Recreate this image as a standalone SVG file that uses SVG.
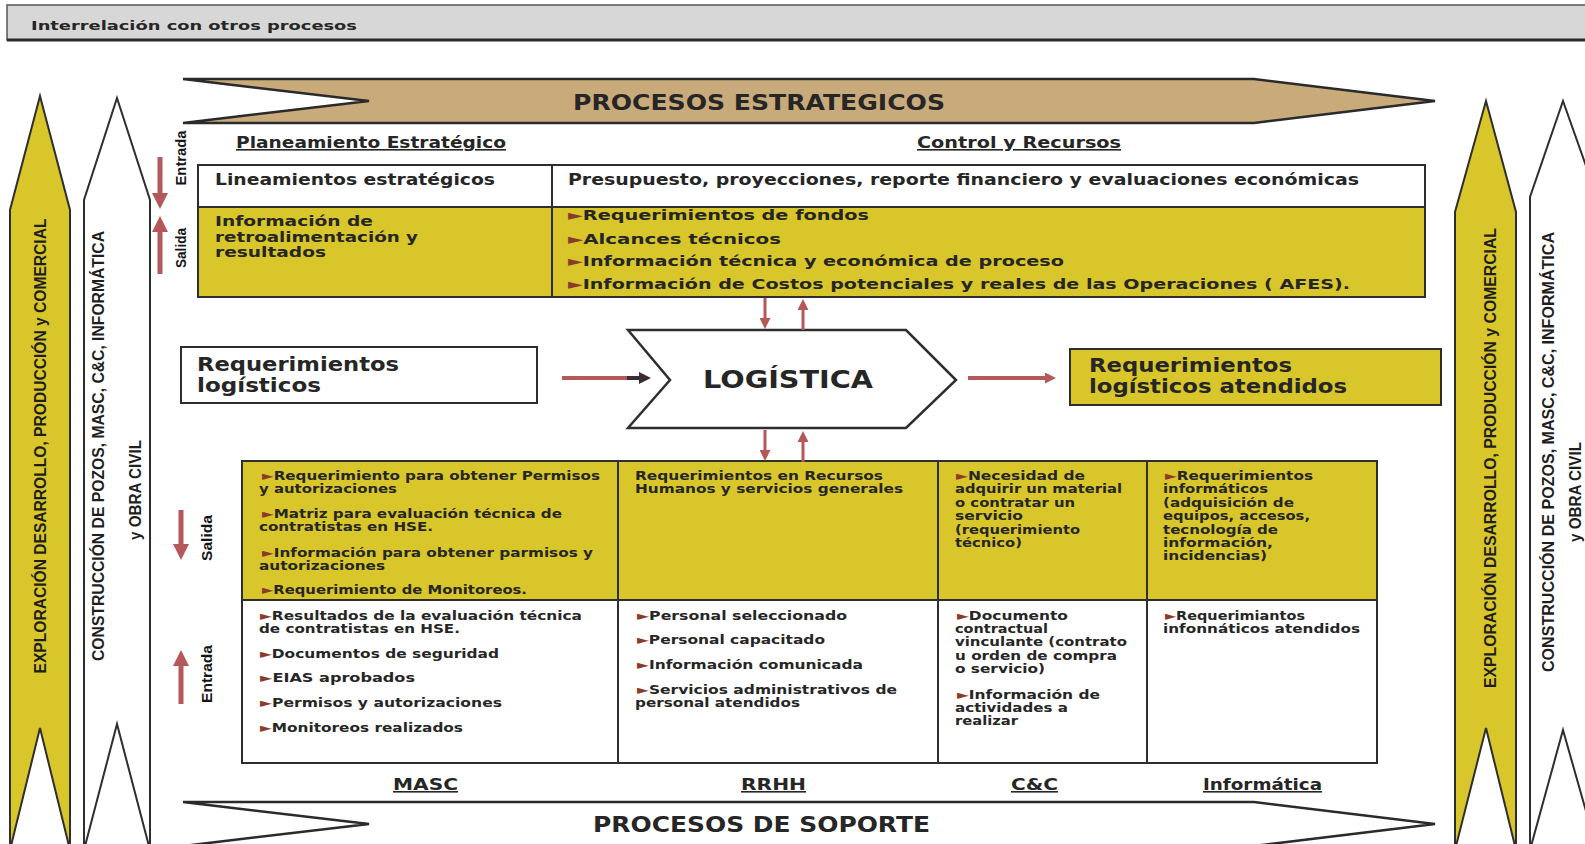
<svg xmlns="http://www.w3.org/2000/svg" width="1585" height="844" viewBox="0 0 1585 844">
<style>
.t{font-family:"DejaVu Sans","Liberation Sans",sans-serif;font-weight:bold;fill:#262626}
.tb{font-size:12.5px}
.tr{font-size:14.5px}
.hd{font-size:16px;text-decoration:underline}
.bx{font-size:19px}
.bu{fill:#8b3b2b}
.ban{font-family:"Liberation Sans",Arial,sans-serif;font-weight:bold;font-size:17px;fill:#1e1e1e}
.lab{font-family:"Liberation Sans",Arial,sans-serif;font-weight:bold;font-size:14px;fill:#141414}
.yel{fill:#d8c62a}
.edge{stroke:#2e2e2e;stroke-width:2}
.ar{stroke:#b5585a;fill:none}
</style>
<defs>
<marker id="hb" markerUnits="userSpaceOnUse" markerWidth="16" markerHeight="16" viewBox="0 0 16 16" refX="0" refY="8" orient="auto"><path d="M0,0 L16,8 L0,16 z" fill="#b5585a"/></marker>
<marker id="hs" markerUnits="userSpaceOnUse" markerWidth="11" markerHeight="11" viewBox="0 0 11 11" refX="0" refY="5.5" orient="auto"><path d="M0,0 L11,5.5 L0,11 z" fill="#b5585a"/></marker>
<marker id="hd" markerUnits="userSpaceOnUse" markerWidth="12" markerHeight="12" viewBox="0 0 12 12" refX="0" refY="6" orient="auto"><path d="M0,0 L12,6 L0,12 z" fill="#3a2c32"/></marker>
</defs>
<rect width="1585" height="844" fill="#ffffff"/>

<g id="header">
<rect x="7" y="5" width="1582" height="35" fill="#d7d7d7" stroke="#555" stroke-width="1.5"/>
<line x1="7" y1="40" x2="1585" y2="40" stroke="#2a2a2a" stroke-width="3"/>
<text x="31" y="30" class="t" font-size="13" fill="#333" textLength="326" lengthAdjust="spacingAndGlyphs">Interrelación con otros procesos</text>
</g>

<g id="banner-left-yellow">
<polygon points="40,96 70,210 70,850 40,728 10,850 10,210" class="yel edge" stroke-width="1.5"/>
<text class="ban" transform="translate(40,446) rotate(-90)" text-anchor="middle" dominant-baseline="central" textLength="455" lengthAdjust="spacingAndGlyphs">EXPLORACIÓN DESARROLLO, PRODUCCIÓN y COMERCIAL</text>
</g>
<g id="banner-left-white">
<polygon points="117,98 150,200 150,850 117,724 84,850 84,200" fill="#fff" class="edge" stroke-width="1.5"/>
<text class="ban" transform="translate(98,446) rotate(-90)" text-anchor="middle" dominant-baseline="central" textLength="430" lengthAdjust="spacingAndGlyphs">CONSTRUCCIÓN DE POZOS, MASC, C&amp;C, INFORMÁTICA</text>
<text class="ban" transform="translate(135,490) rotate(-90)" text-anchor="middle" dominant-baseline="central" textLength="100" lengthAdjust="spacingAndGlyphs">y OBRA CIVIL</text>
</g>
<g id="banner-right-yellow">
<polygon points="1486,101 1516,212 1516,850 1486,728 1455,850 1455,212" class="yel edge" stroke-width="1.5"/>
<text class="ban" transform="translate(1490,458) rotate(-90)" text-anchor="middle" dominant-baseline="central" textLength="460" lengthAdjust="spacingAndGlyphs">EXPLORACIÓN DESARROLLO, PRODUCCIÓN y COMERCIAL</text>
</g>
<g id="banner-right-white">
<polygon points="1563,101 1597,197 1597,850 1563,730 1530,850 1530,197" fill="#fff" class="edge" stroke-width="1.5"/>
<text class="ban" transform="translate(1548,452) rotate(-90)" text-anchor="middle" dominant-baseline="central" textLength="440" lengthAdjust="spacingAndGlyphs">CONSTRUCCIÓN DE POZOS, MASC, C&amp;C, INFORMÁTICA</text>
<text class="ban" transform="translate(1575,492) rotate(-90)" text-anchor="middle" dominant-baseline="central" textLength="100" lengthAdjust="spacingAndGlyphs">y OBRA CIVIL</text>
</g>

<g id="procesos-estrategicos">
<polygon points="183,79 1254,79 1435,101 1254,123 183,123 369,101" fill="#c9aa7a" stroke="#2a2a2a" stroke-width="2.5"/>
<text x="573" y="110" class="t" font-size="21" textLength="372" lengthAdjust="spacingAndGlyphs">PROCESOS ESTRATEGICOS</text>
</g>

<g id="hdr-planeamiento"><text x="236" y="148" class="t hd" textLength="270" lengthAdjust="spacingAndGlyphs">Planeamiento Estratégico</text></g>
<g id="hdr-control"><text x="917" y="148" class="t hd" textLength="204" lengthAdjust="spacingAndGlyphs">Control y Recursos</text></g>

<g id="tabla-estrategica">
<rect x="198" y="207" width="1227" height="90" class="yel"/>
<rect x="198" y="165" width="1227" height="132" fill="none" class="edge"/>
<line x1="198" y1="207" x2="1425" y2="207" class="edge"/>
<line x1="552" y1="165" x2="552" y2="297" class="edge"/>
<text x="215" y="185" class="t" font-size="16" textLength="280" lengthAdjust="spacingAndGlyphs">Lineamientos estratégicos</text>
<text x="568" y="185" class="t" font-size="16" textLength="791" lengthAdjust="spacingAndGlyphs">Presupuesto, proyecciones, reporte financiero y evaluaciones económicas</text>
<text x="215" y="226" class="t tr" textLength="158" lengthAdjust="spacingAndGlyphs">Información de</text>
<text x="215" y="241.5" class="t tr" textLength="203" lengthAdjust="spacingAndGlyphs">retroalimentación y</text>
<text x="215" y="257" class="t tr" textLength="111" lengthAdjust="spacingAndGlyphs">resultados</text>
<text x="568" y="220" class="t tr" textLength="301" lengthAdjust="spacingAndGlyphs"><tspan class="bu">►</tspan>Requerimientos de fondos</text>
<text x="568" y="244" class="t tr" textLength="213" lengthAdjust="spacingAndGlyphs"><tspan class="bu">►</tspan>Alcances técnicos</text>
<text x="568" y="266" class="t tr" textLength="496" lengthAdjust="spacingAndGlyphs"><tspan class="bu">►</tspan>Información técnica y económica de proceso</text>
<text x="568" y="289" class="t tr" textLength="782" lengthAdjust="spacingAndGlyphs"><tspan class="bu">►</tspan>Información de Costos potenciales y reales de las Operaciones ( AFES).</text>
</g>

<g id="lbl-entrada-top"><text class="lab" transform="translate(181,158) rotate(-90)" text-anchor="middle" dominant-baseline="central" textLength="55" lengthAdjust="spacingAndGlyphs">Entrada</text></g>
<g id="lbl-salida-top"><text class="lab" transform="translate(181,248) rotate(-90)" text-anchor="middle" dominant-baseline="central" textLength="40" lengthAdjust="spacingAndGlyphs">Salida</text></g>
<g id="lbl-salida-bottom"><text class="lab" transform="translate(207,538) rotate(-90)" text-anchor="middle" dominant-baseline="central" textLength="46" lengthAdjust="spacingAndGlyphs">Salida</text></g>
<g id="lbl-entrada-bottom"><text class="lab" transform="translate(207,674) rotate(-90)" text-anchor="middle" dominant-baseline="central" textLength="58" lengthAdjust="spacingAndGlyphs">Entrada</text></g>

<g id="req-logisticos">
<rect x="181" y="347" width="356" height="56" fill="#fff" class="edge" stroke-width="2.5"/>
<text x="197" y="371" class="t bx" textLength="202" lengthAdjust="spacingAndGlyphs">Requerimientos</text>
<text x="197" y="392" class="t bx" textLength="124" lengthAdjust="spacingAndGlyphs">logísticos</text>
</g>

<g id="logistica">
<polygon points="628,330 906,330 956,380 906,428 628,428 670,380" fill="#fff" stroke="#2e2e2e" stroke-width="2.5"/>
<text x="703" y="388" class="t" font-size="24" textLength="170" lengthAdjust="spacingAndGlyphs">LOGÍSTICA</text>
</g>

<g id="req-atendidos">
<rect x="1070" y="349" width="371" height="56" class="yel edge" stroke-width="2.5"/>
<text x="1089" y="372" class="t bx" textLength="203" lengthAdjust="spacingAndGlyphs">Requerimientos</text>
<text x="1089" y="393" class="t bx" textLength="258" lengthAdjust="spacingAndGlyphs">logísticos atendidos</text>
</g>

<g id="tabla-soporte">
<rect x="242" y="461" width="1135" height="140" class="yel"/>
<rect x="242" y="461" width="1135" height="302" fill="none" class="edge" stroke-width="2.5"/>
<line x1="242" y1="600" x2="1377" y2="600" class="edge"/>
<line x1="618" y1="461" x2="618" y2="763" class="edge"/>
<line x1="938" y1="461" x2="938" y2="763" class="edge"/>
<line x1="1147" y1="461" x2="1147" y2="763" class="edge"/>
</g>

<g id="masc">
<text x="262" y="480" class="t tb" textLength="338" lengthAdjust="spacingAndGlyphs"><tspan class="bu">►</tspan>Requerimiento para obtener Permisos</text>
<text x="259" y="493" class="t tb" textLength="138" lengthAdjust="spacingAndGlyphs">y autorizaciones</text>
<text x="262" y="518" class="t tb" textLength="300" lengthAdjust="spacingAndGlyphs"><tspan class="bu">►</tspan>Matriz para evaluación técnica de</text>
<text x="259" y="531" class="t tb" textLength="174" lengthAdjust="spacingAndGlyphs">contratistas en HSE.</text>
<text x="262" y="557" class="t tb" textLength="331" lengthAdjust="spacingAndGlyphs"><tspan class="bu">►</tspan>Información para obtener parmisos y</text>
<text x="259" y="570" class="t tb" textLength="126" lengthAdjust="spacingAndGlyphs">autorizaciones</text>
<text x="262" y="594" class="t tb" textLength="265" lengthAdjust="spacingAndGlyphs"><tspan class="bu">►</tspan>Requerimiento de Monitoreos.</text>
<text x="260" y="620" class="t tb" textLength="322" lengthAdjust="spacingAndGlyphs"><tspan class="bu">►</tspan>Resultados de la evaluación técnica</text>
<text x="259" y="633" class="t tb" textLength="201" lengthAdjust="spacingAndGlyphs">de contratistas en HSE.</text>
<text x="260" y="658" class="t tb" textLength="239" lengthAdjust="spacingAndGlyphs"><tspan class="bu">►</tspan>Documentos de seguridad</text>
<text x="260" y="682" class="t tb" textLength="155" lengthAdjust="spacingAndGlyphs"><tspan class="bu">►</tspan>EIAS aprobados</text>
<text x="260" y="707" class="t tb" textLength="242" lengthAdjust="spacingAndGlyphs"><tspan class="bu">►</tspan>Permisos y autorizaciones</text>
<text x="260" y="732" class="t tb" textLength="203" lengthAdjust="spacingAndGlyphs"><tspan class="bu">►</tspan>Monitoreos realizados</text>
<text x="393" y="790" class="t hd" textLength="65" lengthAdjust="spacingAndGlyphs">MASC</text>
</g>

<g id="rrhh">
<text x="635" y="480" class="t tb" textLength="248" lengthAdjust="spacingAndGlyphs">Requerimientos en Recursos</text>
<text x="635" y="493" class="t tb" textLength="268" lengthAdjust="spacingAndGlyphs">Humanos y servicios generales</text>
<text x="637" y="620" class="t tb" textLength="210" lengthAdjust="spacingAndGlyphs"><tspan class="bu">►</tspan>Personal seleccionado</text>
<text x="637" y="644" class="t tb" textLength="188" lengthAdjust="spacingAndGlyphs"><tspan class="bu">►</tspan>Personal capacitado</text>
<text x="637" y="668.5" class="t tb" textLength="226" lengthAdjust="spacingAndGlyphs"><tspan class="bu">►</tspan>Información comunicada</text>
<text x="637" y="694" class="t tb" textLength="260" lengthAdjust="spacingAndGlyphs"><tspan class="bu">►</tspan>Servicios administrativos de</text>
<text x="635" y="707" class="t tb" textLength="165" lengthAdjust="spacingAndGlyphs">personal atendidos</text>
<text x="741" y="790" class="t hd" textLength="65" lengthAdjust="spacingAndGlyphs">RRHH</text>
</g>

<g id="cyc">
<text x="956" y="480" class="t tb" textLength="129" lengthAdjust="spacingAndGlyphs"><tspan class="bu">►</tspan>Necesidad de</text>
<text x="955" y="493.4" class="t tb" textLength="167" lengthAdjust="spacingAndGlyphs">adquirir un material</text>
<text x="955" y="506.8" class="t tb" textLength="120" lengthAdjust="spacingAndGlyphs">o contratar un</text>
<text x="955" y="520.2" class="t tb" textLength="68" lengthAdjust="spacingAndGlyphs">servicio</text>
<text x="955" y="533.6" class="t tb" textLength="125" lengthAdjust="spacingAndGlyphs">(requerimiento</text>
<text x="955" y="547" class="t tb" textLength="67" lengthAdjust="spacingAndGlyphs">técnico)</text>
<text x="957" y="619.5" class="t tb" textLength="111" lengthAdjust="spacingAndGlyphs"><tspan class="bu">►</tspan>Documento</text>
<text x="955" y="632.9" class="t tb" textLength="93" lengthAdjust="spacingAndGlyphs">contractual</text>
<text x="955" y="646.3" class="t tb" textLength="172" lengthAdjust="spacingAndGlyphs">vinculante (contrato</text>
<text x="955" y="659.7" class="t tb" textLength="162" lengthAdjust="spacingAndGlyphs">u orden de compra</text>
<text x="955" y="673.1" class="t tb" textLength="90" lengthAdjust="spacingAndGlyphs">o servicio)</text>
<text x="957" y="698.5" class="t tb" textLength="143" lengthAdjust="spacingAndGlyphs"><tspan class="bu">►</tspan>Información de</text>
<text x="955" y="711.9" class="t tb" textLength="113" lengthAdjust="spacingAndGlyphs">actividades a</text>
<text x="955" y="725.3" class="t tb" textLength="63" lengthAdjust="spacingAndGlyphs">realizar</text>
<text x="1011" y="790" class="t hd" textLength="47" lengthAdjust="spacingAndGlyphs">C&amp;C</text>
</g>

<g id="informatica">
<text x="1165" y="480" class="t tb" textLength="148" lengthAdjust="spacingAndGlyphs"><tspan class="bu">►</tspan>Requerimientos</text>
<text x="1163" y="493.4" class="t tb" textLength="105" lengthAdjust="spacingAndGlyphs">informáticos</text>
<text x="1163" y="506.8" class="t tb" textLength="131" lengthAdjust="spacingAndGlyphs">(adquisición de</text>
<text x="1163" y="520.2" class="t tb" textLength="147" lengthAdjust="spacingAndGlyphs">equipos, accesos,</text>
<text x="1163" y="533.6" class="t tb" textLength="115" lengthAdjust="spacingAndGlyphs">tecnología de</text>
<text x="1163" y="547" class="t tb" textLength="110" lengthAdjust="spacingAndGlyphs">información,</text>
<text x="1163" y="560.4" class="t tb" textLength="104" lengthAdjust="spacingAndGlyphs">incidencias)</text>
<text x="1165" y="620" class="t tb" textLength="140" lengthAdjust="spacingAndGlyphs"><tspan class="bu">►</tspan>Requerimiantos</text>
<text x="1163" y="633.4" class="t tb" textLength="197" lengthAdjust="spacingAndGlyphs">infonnáticos atendidos</text>
<text x="1203" y="790" class="t hd" textLength="119" lengthAdjust="spacingAndGlyphs">Informática</text>
</g>

<g id="procesos-soporte">
<polygon points="183,802 1254,802 1435,824 1254,846 183,846 369,824" fill="#fff" stroke="#2a2a2a" stroke-width="2.5"/>
<text x="593" y="832" class="t" font-size="21" textLength="337" lengthAdjust="spacingAndGlyphs">PROCESOS DE SOPORTE</text>
</g>

<g id="connectors">
<line x1="160" y1="157" x2="160" y2="193" class="ar" stroke-width="5" marker-end="url(#hb)"/>
<line x1="160" y1="274" x2="160" y2="232" class="ar" stroke-width="5" marker-end="url(#hb)"/>
<line x1="181" y1="510" x2="181" y2="544" class="ar" stroke-width="5" marker-end="url(#hb)"/>
<line x1="181" y1="704" x2="181" y2="666" class="ar" stroke-width="5" marker-end="url(#hb)"/>
<line x1="765" y1="298" x2="765" y2="318" class="ar" stroke-width="3" marker-end="url(#hs)"/>
<line x1="803" y1="330" x2="803" y2="310" class="ar" stroke-width="3" marker-end="url(#hs)"/>
<line x1="765" y1="430" x2="765" y2="450" class="ar" stroke-width="3" marker-end="url(#hs)"/>
<line x1="803" y1="462" x2="803" y2="442" class="ar" stroke-width="3" marker-end="url(#hs)"/>
<line x1="562" y1="378" x2="628" y2="378" class="ar" stroke-width="4"/>
<line x1="627" y1="378" x2="639" y2="378" stroke="#3a2c32" stroke-width="4" marker-end="url(#hd)"/>
<line x1="968" y1="378" x2="1045" y2="378" class="ar" stroke-width="4" marker-end="url(#hs)"/>
</g>
</svg>
